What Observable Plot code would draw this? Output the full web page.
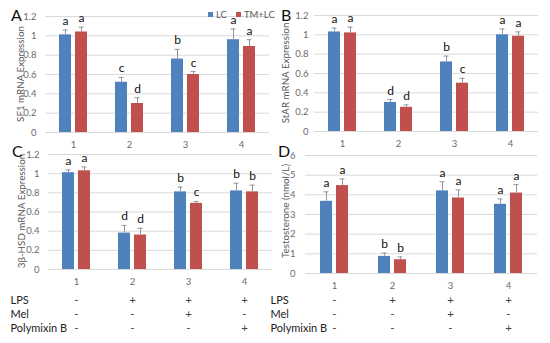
<!DOCTYPE html>
<html>
<head>
<meta charset="utf-8">
<script src="https://cdn.jsdelivr.net/npm/d3@7"></script>
<script src="https://cdn.jsdelivr.net/npm/@observablehq/plot@0.6"></script>
<style>
  body { margin: 0; background: #fff; }
  #wrap { position: relative; width: 550px; height: 343px; font-family: Lato, "Open Sans", sans-serif; overflow: hidden; }
  #wrap svg { position: absolute; overflow: visible; }
  .plet { position: absolute; font-size: 16px; color: #111; line-height: 1; }
  .ylab { position: absolute; font-size: 9.8px; color: #595959; white-space: nowrap; line-height: 1; transform: translate(-50%, -50%) rotate(-90deg); }
  .leg { position: absolute; font-size: 9.5px; color: #595959; display: flex; align-items: center; gap: 3px; line-height: 1; }
  .sw { width: 5px; height: 5px; display: inline-block; }
</style>
</head>
<body>
<div id="wrap"></div>
<script>
// ---- data ----
const groups = ["1", "2", "3", "4"];
const series = ["LC", "TM+LC"];
const colors = ["#4F81BD", "#C0504D"];

const sf1LC = [1.01, 0.52, 0.76, 0.96];
const sf1LCerr = [0.05, 0.05, 0.10, 0.11];
const sf1TM = [1.04, 0.30, 0.60, 0.89];
const sf1TMerr = [0.05, 0.06, 0.03, 0.07];
const sf1LCletters = ["a", "c", "b", "a"];
const sf1TMletters = ["a", "d", "c", "a"];

const starLC = [1.03, 0.30, 0.72, 1.00];
const starLCerr = [0.04, 0.03, 0.06, 0.06];
const starTM = [1.02, 0.25, 0.50, 0.985];
const starTMerr = [0.06, 0.025, 0.05, 0.045];
const starLCletters = ["a", "d", "b", "a"];
const starTMletters = ["a", "d", "c", "a"];

const hsdLC = [1.01, 0.38, 0.81, 0.82];
const hsdLCerr = [0.03, 0.08, 0.05, 0.08];
const hsdTM = [1.03, 0.36, 0.69, 0.81];
const hsdTMerr = [0.04, 0.07, 0.02, 0.07];
const hsdLCletters = ["a", "d", "b", "b"];
const hsdTMletters = ["a", "d", "c", "b"];

const testoLC = [3.67, 0.87, 4.20, 3.52];
const testoLCerr = [0.48, 0.17, 0.46, 0.27];
const testoTM = [4.47, 0.70, 3.84, 4.09];
const testoTMerr = [0.34, 0.14, 0.41, 0.43];
const testoLCletters = ["a", "b", "a", "a"];
const testoTMletters = ["a", "b", "a", "a"];

const exprTicks = [0, 0.2, 0.4, 0.6, 0.8, 1, 1.2];
const testoTicks = [0, 1, 2, 3, 4, 5, 6];

const treatments = ["LPS", "Mel", "Polymixin B"];
const LPS = ["-", "+", "+", "+"];
const Mel = ["-", "-", "+", "-"];
const PolymixinB = ["-", "-", "-", "+"];

// ---- helpers ----
function rowsOf(lc, lcErr, lcL, tm, tmErr, tmL) {
  const out = [];
  groups.forEach((g, i) => {
    out.push({group: g, series: series[0], value: lc[i], err: lcErr[i], letter: lcL[i]});
    out.push({group: g, series: series[1], value: tm[i], err: tmErr[i], letter: tmL[i]});
  });
  return out;
}

const wrap = document.getElementById("wrap");

function addDiv(cls, text, x, y) {
  const s = document.createElement("div");
  s.className = cls; s.textContent = text;
  s.style.left = x + "px"; s.style.top = y + "px";
  wrap.appendChild(s);
}

function panel(cfg) {
  const rows = cfg.rows;
  const top = d => d.value + d.err;
  const chart = Plot.plot({
    width: cfg.width, height: cfg.height,
    marginLeft: cfg.ml, marginRight: cfg.mr, marginTop: cfg.mt, marginBottom: cfg.mb,
    style: {fontFamily: "Lato, 'Open Sans', sans-serif", fontSize: "9.5px", color: "#6b6b6b", background: "none"},
    fx: {domain: groups, padding: 0, label: null, axis: "bottom", tickSize: 0, tickPadding: cfg.xpad},
    x: {domain: series, paddingInner: 0.25, paddingOuter: 0.875, axis: null},
    y: {domain: cfg.domain, label: null, axis: null},
    color: {domain: series, range: colors},
    marks: [
      Plot.gridY(cfg.ticks, {stroke: "#d9d9d9", strokeOpacity: 1}),
      Plot.axisY(cfg.ticks, {tickSize: 0, tickPadding: cfg.ypad, tickFormat: d => String(d), label: null}),
      Plot.barY(rows, {fx: "group", x: "series", y: "value", fill: "series"}),
      Plot.ruleX(rows, {fx: "group", x: "series", y1: "value", y2: top, stroke: "#8f96a0", strokeWidth: 1}),
      Plot.tickY(rows, {fx: "group", x: "series", y: top, stroke: "#8f96a0", strokeWidth: 1, inset: 3.5}),
      Plot.text(rows, {fx: "group", x: "series", y: top, text: "letter", lineAnchor: "bottom", dy: -5, fontSize: 12, fill: "#111"})
    ]
  });
  chart.style.left = cfg.left + "px";
  chart.style.top = cfg.top + "px";
  wrap.appendChild(chart);
  addDiv("ylab", cfg.label, cfg.labelX, cfg.labelY);
}

function table(cfg) {
  const cols = {"LPS": LPS, "Mel": Mel, "Polymixin B": PolymixinB};
  const cells = [];
  treatments.forEach(t => groups.forEach((g, i) => cells.push({row: t, group: g, sym: cols[t][i]})));
  const chart = Plot.plot({
    width: cfg.width, height: 53,
    marginLeft: cfg.ml, marginRight: cfg.mr, marginTop: 10, marginBottom: 15,
    style: {fontFamily: "Lato, 'Open Sans', sans-serif", fontSize: "11px", background: "none"},
    x: {domain: groups, type: "band", padding: 0, axis: null},
    y: {domain: treatments, type: "point", padding: 0, axis: null},
    marks: [
      Plot.text(cells, {x: "group", y: "row", text: "sym", fill: "#444", fontSize: 11.5}),
      Plot.text(treatments, {y: d => d, frameAnchor: "left", dx: cfg.labelDx, textAnchor: "start", text: d => d, fill: "#222", fontSize: 11})
    ]
  });
  chart.style.left = cfg.left + "px";
  chart.style.top = "290px";
  wrap.appendChild(chart);
}

panel({rows: rowsOf(sf1LC, sf1LCerr, sf1LCletters, sf1TM, sf1TMerr, sf1TMletters),
  domain: [0, 1.2], ticks: exprTicks, label: "SF1 mRNA Expression", labelX: 21, labelY: 74,
  left: 0, top: 0, width: 275, height: 150, ml: 44, mr: 5, mt: 16, mb: 18, ypad: 9, xpad: 9});
panel({rows: rowsOf(starLC, starLCerr, starLCletters, starTM, starTMerr, starTMletters),
  domain: [0, 1.2], ticks: exprTicks, label: "StAR mRNA Expression", labelX: 286, labelY: 73,
  left: 275, top: 0, width: 275, height: 150, ml: 39, mr: 12, mt: 15, mb: 19, ypad: 6, xpad: 8.5});
panel({rows: rowsOf(hsdLC, hsdLCerr, hsdLCletters, hsdTM, hsdTMerr, hsdTMletters),
  domain: [0, 1.2], ticks: exprTicks, label: "3β-HSD mRNA Expression", labelX: 22, labelY: 211,
  left: 0, top: 140, width: 275, height: 150, ml: 47, mr: 3, mt: 14, mb: 21, ypad: 9, xpad: 9});
panel({rows: rowsOf(testoLC, testoLCerr, testoLCletters, testoTM, testoTMerr, testoTMletters),
  domain: [0, 6], ticks: testoTicks, label: "Testosterone (nmol/L)", labelX: 286, labelY: 211,
  left: 275, top: 140, width: 275, height: 150, ml: 30, mr: 13, mt: 15, mb: 17, ypad: 10, xpad: 8.5});

table({left: 0, width: 275, ml: 47, mr: 3, labelDx: -37});
table({left: 265, width: 285, ml: 40, mr: 13, labelDx: -35});

// panel letters
[["A", 11, 7], ["B", 281, 7], ["C", 12, 143], ["D", 278, 143]].forEach(([t, x, y]) => addDiv("plet", t, x, y));

// legend
const leg = document.createElement("div");
leg.className = "leg";
leg.style.left = "208px"; leg.style.top = "10px";
series.forEach((s, i) => {
  const sw = document.createElement("span");
  sw.className = "sw"; sw.style.background = colors[i];
  if (i > 0) sw.style.marginLeft = "6px";
  const tx = document.createElement("span");
  tx.textContent = s;
  leg.appendChild(sw); leg.appendChild(tx);
});
wrap.appendChild(leg);
</script>
</body>
</html>
